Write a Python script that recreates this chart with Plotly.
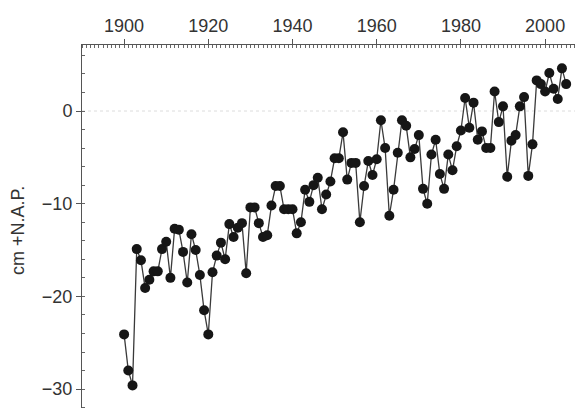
import plotly.graph_objects as go

years = list(range(1900, 2006))
level_cm = [
    -24.1, -28.0, -29.6, -14.9, -16.1, -19.1, -18.2, -17.3, -17.3, -14.9,
    -14.1, -18.0, -12.7, -12.8, -15.2, -18.5, -13.3, -15.0, -17.7, -21.5,
    -24.1, -17.4, -15.6, -14.2, -16.0, -12.2, -13.6, -12.6, -12.1, -17.5,
    -10.4, -10.4, -12.1, -13.6, -13.4, -10.2, -8.1, -8.1, -10.6, -10.6,
    -10.6, -13.2, -12.0, -8.5, -9.8, -8.0, -7.2, -10.6, -9.0, -7.6,
    -5.1, -5.1, -2.3, -7.4, -5.6, -5.6, -12.0, -8.1, -5.4, -6.9,
    -5.2, -1.0, -4.0, -11.3, -8.5, -4.5, -1.0, -1.6, -5.0, -4.1,
    -2.6, -8.4, -10.0, -4.7, -3.1, -6.8, -8.4, -4.7, -6.4, -3.8,
    -2.1, 1.4, -1.8, 0.9, -3.1, -2.2, -4.0, -4.0, 2.1, -1.2,
    0.5, -7.1, -3.2, -2.6, 0.5, 1.5, -7.0, -3.6, 3.3, 2.9,
    2.1, 4.1, 2.4, 1.3, 4.6, 2.9,
]
x_ticks = [1900, 1920, 1940, 1960, 1980, 2000]
y_ticks = [0, -10, -20, -30]
y_title = "cm +N.A.P."

fig = go.Figure()
fig.add_trace(go.Scatter(
    x=years, y=level_cm, mode="lines+markers",
    line=dict(color="#3a3a3a", width=1.3),
    marker=dict(color="#161616", size=10, line=dict(width=0)),
    showlegend=False,
))

fig.add_shape(type="line", xref="paper", x0=0, x1=1, yref="y", y0=0, y1=0,
              line=dict(color="#dcdcdc", width=1, dash="dot"), layer="below")

axis_font = dict(family="Liberation Sans, Arial, sans-serif", size=18, color="#333333")

fig.add_annotation(
    text=y_title, xref="paper", yref="paper", x=0, y=0.4876,
    xanchor="center", yanchor="middle", xshift=-64, textangle=-90,
    showarrow=False, font=axis_font,
)

fig.update_layout(
    width=583, height=408,
    margin=dict(l=74, r=8, t=37, b=8),
    paper_bgcolor="white", plot_bgcolor="white",
    font=axis_font,
    xaxis=dict(
        side="top", range=[1890, 2009], tickvals=x_ticks,
        automargin=False,
        showgrid=False, zeroline=False,
        showline=True, linecolor="#555555", linewidth=1,
        ticks="outside", ticklen=5, tickcolor="#555555",
        minor=dict(ticks="inside", dtick=1, ticklen=3, tickcolor="#666666", showgrid=False),
        tickfont=axis_font,
    ),
    yaxis=dict(
        range=[-32.04, 7.12], tickvals=y_ticks,
        automargin=False,
        showgrid=False, zeroline=False,
        showline=True, linecolor="#555555", linewidth=1,
        ticks="outside", ticklen=5, tickcolor="#555555",
        minor=dict(ticks="inside", dtick=2, ticklen=3, tickcolor="#666666", showgrid=False),
        tickfont=axis_font,
    ),
)

fig.write_html("out.html")
